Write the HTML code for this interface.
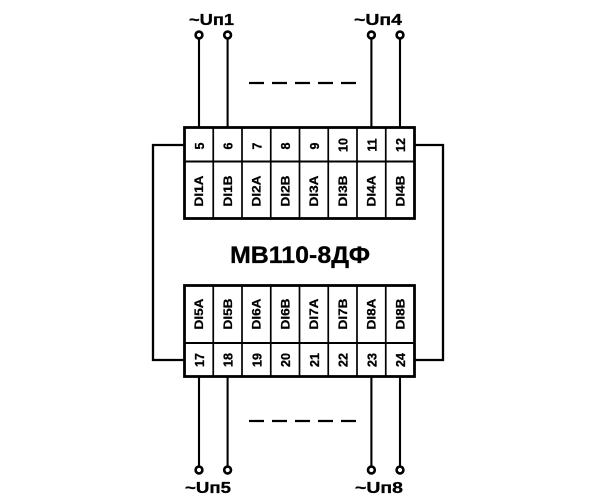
<!DOCTYPE html>
<html>
<head>
<meta charset="utf-8">
<style>
  html, body { margin:0; padding:0; background:#fff; }
  svg { display:block; }
  text { font-family: "Liberation Sans", "DejaVu Sans", sans-serif; font-weight: bold; fill:#000; }
</style>
</head>
<body>
<svg width="600" height="500" viewBox="0 0 600 500" xmlns="http://www.w3.org/2000/svg">
  <rect x="0" y="0" width="600" height="500" fill="#fff"/>

  <!-- loops -->
  <polyline points="184.5,145 153,145 153,360 184.5,360" fill="none" stroke="#000" stroke-width="2.3"/>
  <polyline points="414.5,145 443,145 443,360 414.5,360" fill="none" stroke="#000" stroke-width="2.3"/>

  <!-- wires -->
  <g stroke="#000" stroke-width="2.1" fill="none">
    <line x1="199" y1="38" x2="199" y2="127.5"/>
    <line x1="227.6" y1="38" x2="227.6" y2="127.5"/>
    <line x1="371.4" y1="38" x2="371.4" y2="127.5"/>
    <line x1="400" y1="38" x2="400" y2="127.5"/>
    <line x1="199" y1="376.5" x2="199" y2="467"/>
    <line x1="227.6" y1="376.5" x2="227.6" y2="467"/>
    <line x1="371.4" y1="376.5" x2="371.4" y2="467"/>
    <line x1="400" y1="376.5" x2="400" y2="467"/>
  </g>
  <g stroke="#000" stroke-width="2.6" fill="#fff">
    <circle cx="199" cy="35" r="3.4"/>
    <circle cx="227.6" cy="35" r="3.4"/>
    <circle cx="371.4" cy="35" r="3.4"/>
    <circle cx="400" cy="35" r="3.4"/>
    <circle cx="199" cy="470" r="3.4"/>
    <circle cx="227.6" cy="470" r="3.4"/>
    <circle cx="371.4" cy="470" r="3.4"/>
    <circle cx="400" cy="470" r="3.4"/>
  </g>

  <!-- dashes -->
  <line x1="249" y1="83" x2="356" y2="83" stroke="#000" stroke-width="2.2" stroke-dasharray="15 8"/>
  <line x1="249" y1="421" x2="356" y2="421" stroke="#000" stroke-width="2.2" stroke-dasharray="15 8"/>

  <!-- top block -->
  <rect x="184.5" y="127.5" width="230" height="91" fill="#fff" stroke="#000" stroke-width="2.8"/>
  <line x1="184.5" y1="161.5" x2="414.5" y2="161.5" stroke="#000" stroke-width="1.9"/>
  <g stroke="#000" stroke-width="1.7">
    <line x1="213.25" y1="127.5" x2="213.25" y2="218.5"/>
    <line x1="242" y1="127.5" x2="242" y2="218.5"/>
    <line x1="270.75" y1="127.5" x2="270.75" y2="218.5"/>
    <line x1="299.5" y1="127.5" x2="299.5" y2="218.5"/>
    <line x1="328.25" y1="127.5" x2="328.25" y2="218.5"/>
    <line x1="357" y1="127.5" x2="357" y2="218.5"/>
    <line x1="385.75" y1="127.5" x2="385.75" y2="218.5"/>
  </g>

  <!-- bottom block -->
  <rect x="184.5" y="285.5" width="230" height="91" fill="#fff" stroke="#000" stroke-width="2.8"/>
  <line x1="184.5" y1="343" x2="414.5" y2="343" stroke="#000" stroke-width="1.9"/>
  <g stroke="#000" stroke-width="1.7">
    <line x1="213.25" y1="285.5" x2="213.25" y2="376.5"/>
    <line x1="242" y1="285.5" x2="242" y2="376.5"/>
    <line x1="270.75" y1="285.5" x2="270.75" y2="376.5"/>
    <line x1="299.5" y1="285.5" x2="299.5" y2="376.5"/>
    <line x1="328.25" y1="285.5" x2="328.25" y2="376.5"/>
    <line x1="357" y1="285.5" x2="357" y2="376.5"/>
    <line x1="385.75" y1="285.5" x2="385.75" y2="376.5"/>
  </g>

  <!-- top numbers -->
  <g font-size="12.5" text-anchor="middle" stroke="#000" stroke-width="0.3">
    <text transform="translate(199.4 146) rotate(-90)" dy="4.5">5</text>
    <text transform="translate(228.1 146) rotate(-90)" dy="4.5">6</text>
    <text transform="translate(256.9 146) rotate(-90)" dy="4.5">7</text>
    <text transform="translate(285.6 146) rotate(-90)" dy="4.5">8</text>
    <text transform="translate(314.4 146) rotate(-90)" dy="4.5">9</text>
    <text transform="translate(343.1 145) rotate(-90)" dy="4.5">10</text>
    <text transform="translate(371.9 145) rotate(-90)" dy="4.5">11</text>
    <text transform="translate(400.6 145) rotate(-90)" dy="4.5">12</text>
  </g>
  <!-- top labels -->
  <g font-size="12" text-anchor="middle" stroke="#000" stroke-width="0.25">
    <text transform="translate(198.9 191) rotate(-90)" dy="4.3" textLength="31" lengthAdjust="spacingAndGlyphs">DI1A</text>
    <text transform="translate(227.6 191) rotate(-90)" dy="4.3" textLength="31" lengthAdjust="spacingAndGlyphs">DI1B</text>
    <text transform="translate(256.4 191) rotate(-90)" dy="4.3" textLength="31" lengthAdjust="spacingAndGlyphs">DI2A</text>
    <text transform="translate(285.1 191) rotate(-90)" dy="4.3" textLength="31" lengthAdjust="spacingAndGlyphs">DI2B</text>
    <text transform="translate(313.9 191) rotate(-90)" dy="4.3" textLength="31" lengthAdjust="spacingAndGlyphs">DI3A</text>
    <text transform="translate(342.6 191) rotate(-90)" dy="4.3" textLength="31" lengthAdjust="spacingAndGlyphs">DI3B</text>
    <text transform="translate(371.4 191) rotate(-90)" dy="4.3" textLength="31" lengthAdjust="spacingAndGlyphs">DI4A</text>
    <text transform="translate(400.1 191) rotate(-90)" dy="4.3" textLength="31" lengthAdjust="spacingAndGlyphs">DI4B</text>
  </g>

  <!-- bottom labels -->
  <g font-size="12" text-anchor="middle" stroke="#000" stroke-width="0.25">
    <text transform="translate(198.9 314) rotate(-90)" dy="4.3" textLength="31" lengthAdjust="spacingAndGlyphs">DI5A</text>
    <text transform="translate(227.6 314) rotate(-90)" dy="4.3" textLength="31" lengthAdjust="spacingAndGlyphs">DI5B</text>
    <text transform="translate(256.4 314) rotate(-90)" dy="4.3" textLength="31" lengthAdjust="spacingAndGlyphs">DI6A</text>
    <text transform="translate(285.1 314) rotate(-90)" dy="4.3" textLength="31" lengthAdjust="spacingAndGlyphs">DI6B</text>
    <text transform="translate(313.9 314) rotate(-90)" dy="4.3" textLength="31" lengthAdjust="spacingAndGlyphs">DI7A</text>
    <text transform="translate(342.6 314) rotate(-90)" dy="4.3" textLength="31" lengthAdjust="spacingAndGlyphs">DI7B</text>
    <text transform="translate(371.4 314) rotate(-90)" dy="4.3" textLength="31" lengthAdjust="spacingAndGlyphs">DI8A</text>
    <text transform="translate(400.1 314) rotate(-90)" dy="4.3" textLength="31" lengthAdjust="spacingAndGlyphs">DI8B</text>
  </g>
  <!-- bottom numbers -->
  <g font-size="12.5" text-anchor="middle" stroke="#000" stroke-width="0.3">
    <text transform="translate(199.4 360) rotate(-90)" dy="4.5">17</text>
    <text transform="translate(228.1 360) rotate(-90)" dy="4.5">18</text>
    <text transform="translate(256.9 360) rotate(-90)" dy="4.5">19</text>
    <text transform="translate(285.6 360) rotate(-90)" dy="4.5">20</text>
    <text transform="translate(314.4 360) rotate(-90)" dy="4.5">21</text>
    <text transform="translate(343.1 360) rotate(-90)" dy="4.5">22</text>
    <text transform="translate(371.9 360) rotate(-90)" dy="4.5">23</text>
    <text transform="translate(400.6 360) rotate(-90)" dy="4.5">24</text>
  </g>

  <!-- title -->
  <text x="300" y="263" font-size="24" text-anchor="middle" textLength="140" lengthAdjust="spacingAndGlyphs" stroke="#000" stroke-width="0.3">МВ110-8ДФ</text>

  <!-- supply labels -->
  <g font-size="16" stroke="#000" stroke-width="0.3">
    <text x="189" y="25" textLength="45" lengthAdjust="spacingAndGlyphs">~Uп1</text>
    <text x="354" y="25" textLength="48" lengthAdjust="spacingAndGlyphs">~Uп4</text>
    <text x="185" y="493" textLength="46" lengthAdjust="spacingAndGlyphs">~Uп5</text>
    <text x="355" y="493" textLength="48" lengthAdjust="spacingAndGlyphs">~Uп8</text>
  </g>
</svg>
</body>
</html>
